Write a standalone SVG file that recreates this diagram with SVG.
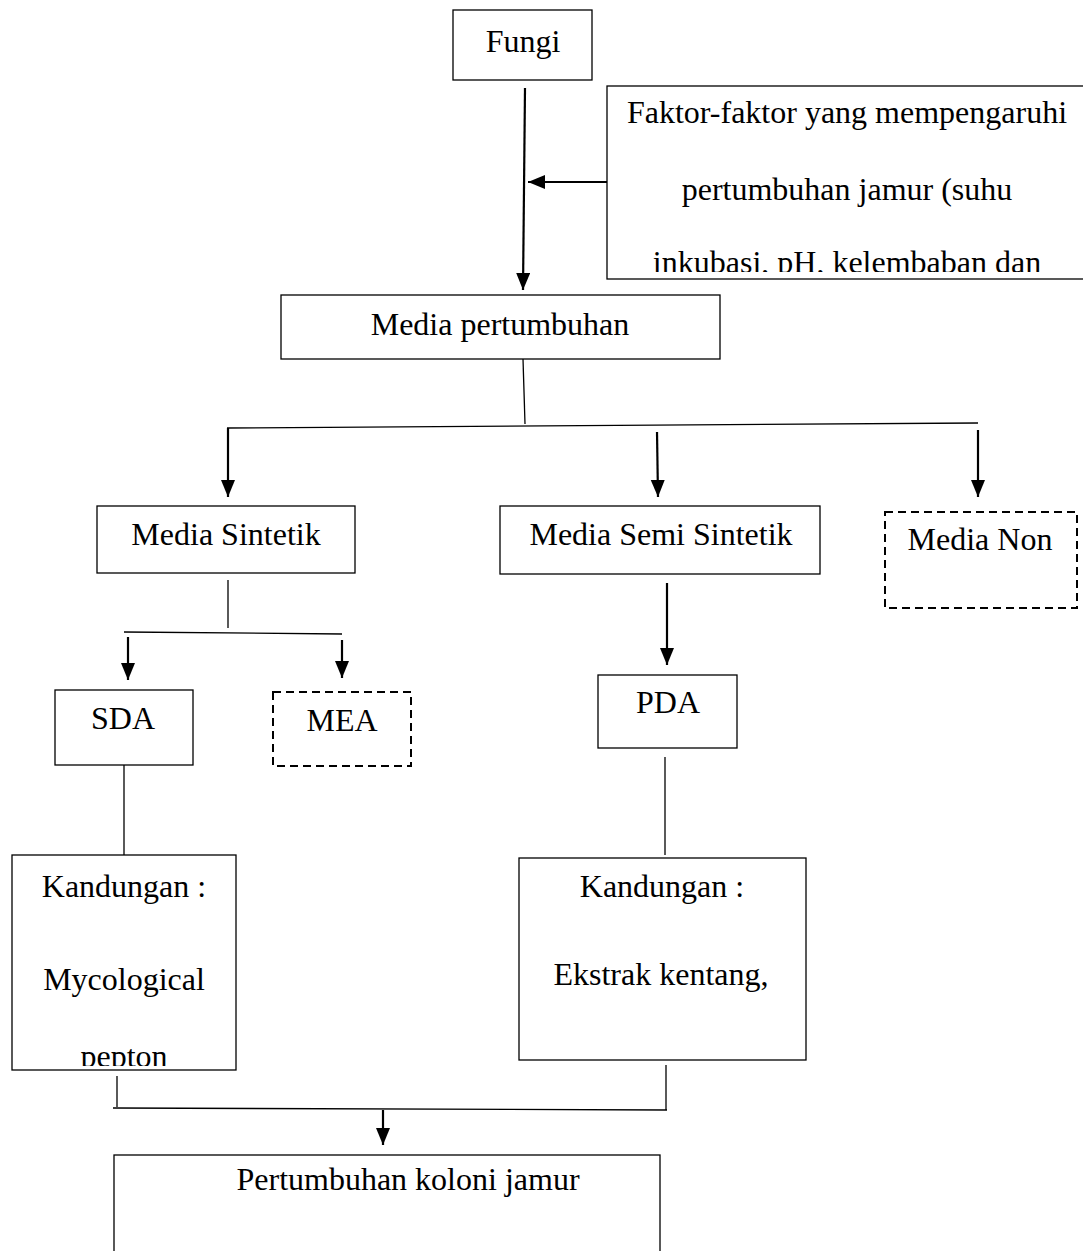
<svg xmlns="http://www.w3.org/2000/svg" width="1083" height="1251" viewBox="0 0 1083 1251">
<style>
.box{fill:#fff;stroke:#000;stroke-width:1.3}
.dash{fill:#fff;stroke:#000;stroke-width:2;stroke-dasharray:8 5}
.t{font-family:"Liberation Serif","Times New Roman",serif;font-size:32px;fill:#000;text-anchor:middle}
.ln{stroke:#000;stroke-width:1.3;fill:none}
.ar{stroke:#000;stroke-width:2.2;fill:none;marker-end:url(#ah)}
</style>
<defs>
<marker id="ah" markerUnits="userSpaceOnUse" markerWidth="18" markerHeight="16" refX="17" refY="7" orient="auto">
<path d="M0,0 L17,7 L0,14 Z" fill="#000"/>
</marker>
<clipPath id="cFak"><rect x="607" y="86" width="476" height="186"/></clipPath>
<clipPath id="cKL"><rect x="12" y="855" width="224" height="211"/></clipPath>
<clipPath id="cKR"><rect x="519" y="858" width="287" height="190"/></clipPath>
</defs>
<g id="connectors">
<line class="ar" x1="525" y1="88" x2="523" y2="290"/>
<line class="ar" x1="607" y1="182" x2="528" y2="182"/>
<line class="ln" x1="523" y1="359" x2="525" y2="424"/>
<line class="ln" x1="227" y1="428" x2="978" y2="423"/>
<line class="ar" x1="228" y1="428" x2="228" y2="497"/>
<line class="ar" x1="657" y1="432" x2="658" y2="497"/>
<line class="ar" x1="978" y1="430" x2="978" y2="497"/>
<line class="ln" x1="228" y1="580" x2="228" y2="628"/>
<line class="ln" x1="124" y1="632" x2="342" y2="634"/>
<line class="ar" x1="128" y1="637" x2="128" y2="680"/>
<line class="ar" x1="342" y1="640" x2="342" y2="678"/>
<line class="ar" x1="667" y1="583" x2="667" y2="665"/>
<line class="ln" x1="124" y1="765" x2="124" y2="855"/>
<line class="ln" x1="665" y1="757" x2="665" y2="855"/>
<line class="ln" x1="117" y1="1076" x2="117" y2="1107"/>
<line class="ln" x1="666" y1="1065" x2="666" y2="1110"/>
<line class="ln" x1="113" y1="1108" x2="667" y2="1110"/>
<line class="ar" x1="383" y1="1110" x2="383" y2="1145"/>
</g>
<g id="fungi"><rect class="box" x="453" y="10" width="139" height="70"/><text class="t" x="523" y="52">Fungi</text></g>
<g id="faktor"><rect class="box" x="607" y="86" width="480" height="193"/>
<g clip-path="url(#cFak)">
<text class="t" x="847" y="123">Faktor-faktor yang mempengaruhi</text>
<text class="t" x="847" y="200">pertumbuhan jamur (suhu</text>
<text class="t" x="847" y="273">inkubasi, pH, kelembaban dan</text>
</g></g>
<g id="media-pertumbuhan"><rect class="box" x="281" y="295" width="439" height="64"/><text class="t" x="500" y="335">Media pertumbuhan</text></g>
<g id="media-sintetik"><rect class="box" x="97" y="506" width="258" height="67"/><text class="t" x="226" y="545">Media Sintetik</text></g>
<g id="media-semi"><rect class="box" x="500" y="506" width="320" height="68"/><text class="t" x="661" y="545">Media Semi Sintetik</text></g>
<g id="media-non"><rect class="dash" x="885" y="512" width="192" height="96"/><text class="t" x="980" y="550">Media Non</text></g>
<g id="sda"><rect class="box" x="55" y="690" width="138" height="75"/><text class="t" x="123" y="729">SDA</text></g>
<g id="mea"><rect class="dash" x="273" y="692" width="138" height="74"/><text class="t" x="342" y="731">MEA</text></g>
<g id="pda"><rect class="box" x="598" y="675" width="139" height="73"/><text class="t" x="668" y="713">PDA</text></g>
<g id="kandungan-sda"><rect class="box" x="12" y="855" width="224" height="215"/>
<g clip-path="url(#cKL)">
<text class="t" x="124" y="897">Kandungan :</text>
<text class="t" x="124" y="990">Mycological</text>
<text class="t" x="124" y="1067">pepton</text>
</g></g>
<g id="kandungan-pda"><rect class="box" x="519" y="858" width="287" height="202"/>
<g clip-path="url(#cKR)">
<text class="t" x="662" y="897">Kandungan :</text>
<text class="t" x="661" y="985">Ekstrak kentang,</text>
</g></g>
<g id="pertumbuhan-koloni"><rect class="box" x="114" y="1155" width="546" height="110"/><text class="t" x="408" y="1190">Pertumbuhan koloni jamur</text></g>
</svg>
